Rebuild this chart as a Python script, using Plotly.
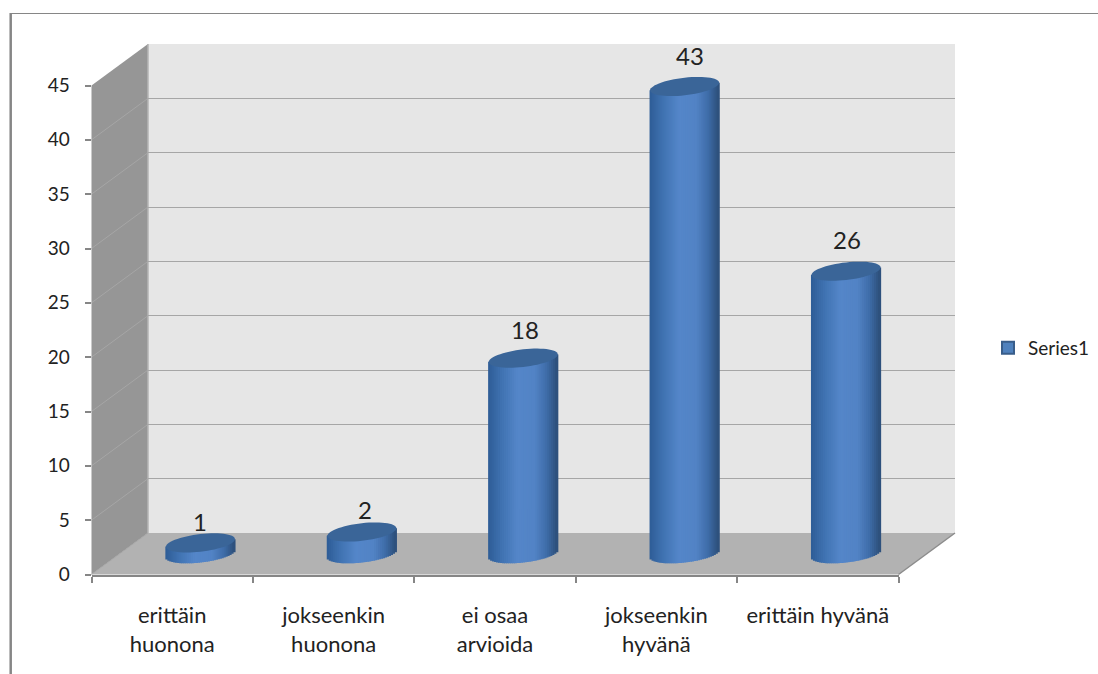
import math
import plotly.graph_objects as go

# Survey answers and their counts
categories = ["erittäin huonona", "jokseenkin huonona", "ei osaa arvioida",
              "jokseenkin hyvänä", "erittäin hyvänä"]
label_line1 = ["erittäin", "jokseenkin", "ei osaa", "jokseenkin", "erittäin hyvänä"]
label_line2 = ["huonona", "huonona", "arvioida", "hyvänä", ""]
values = [1, 2, 18, 43, 26]
series_name = "Series1"
y_ticks = [0, 5, 10, 15, 20, 25, 30, 35, 40, 45]

# Page geometry in pixels
W, H = 1098, 674
LEFT, RIGHT, BOTTOM, TOP = 91.5, 898.5, 574.5, 85.5
DEPTH_X, DEPTH_Y = 56.5, 41.5
UNIT_Y = (BOTTOM - TOP) / 45
UNIT_X = (RIGHT - LEFT) / 5

# Cylinder shape in pixels: half width, half height of the cap, tilt of the cap
CAP_A, CAP_B, CAP_TILT = 34.5, 8.8, 3.8
BELOW_ZERO = 2  # value units kept under zero for the rounded cylinder foot

# Colours
AXIS = "#868686"
GRID = "#a6a6a6"
WALL_BACK = "#e6e6e6"
WALL_LEFT = "#969696"
FLOOR = "#b2b2b2"
TEXT = "#222222"
CAP = "#3a6598"
GRADIENT = [(-1.0, (46, 92, 150)), (-0.6, (64, 115, 178)), (-0.15, (84, 134, 201)),
            (0.35, (82, 131, 197)), (0.7, (62, 108, 168)), (1.0, (44, 78, 120))]
FONT = "Lato"


def px_x(v):
    return v / W


def px_y(v):
    return 1 - v / H


def shade(u):
    for (u0, c0), (u1, c1) in zip(GRADIENT, GRADIENT[1:]):
        if u0 <= u <= u1:
            f = (u - u0) / (u1 - u0)
            return "rgb({},{},{})".format(*[round(a + (b - a) * f) for a, b in zip(c0, c1)])
    return "rgb(44,78,120)"


fig = go.Figure()
indices = list(range(len(categories)))

# Flat body of each cylinder, also the legend entry
fig.add_trace(go.Bar(
    x=indices, y=[v - 0.8 for v in values], base=[0.4] * len(values),
    width=2 * (CAP_A - 1) / UNIT_X, name=series_name,
    marker=dict(color="#4f81bd", line=dict(color="#385d8a", width=2)),
    xaxis="x3", yaxis="y3", showlegend=True,
))

# Shaded strips across each cylinder, with a curved foot
STRIPS = 35
for s in range(STRIPS):
    u = -1 + (2 * s + 1) / STRIPS
    foot = (-CAP_B * math.sqrt(max(0, 1 - u * u)) + CAP_TILT * u) / UNIT_Y
    lift = CAP_TILT * u / UNIT_Y
    fig.add_trace(go.Bar(
        x=[i + u * CAP_A / UNIT_X for i in indices],
        y=[v + lift - foot for v in values],
        base=[foot] * len(values),
        width=3.2 * CAP_A / STRIPS / UNIT_X,
        marker=dict(color=shade(u), line=dict(width=0)),
        xaxis="x3", yaxis="y3", showlegend=False, hoverinfo="skip",
    ))

# Invisible traces that keep the front plane, label axis and back wall alive
for xa, ya in [("x", "y"), ("x4", "y"), ("x2", "y2")]:
    fig.add_trace(go.Scatter(x=indices, y=values, mode="markers", marker=dict(opacity=0),
                             xaxis=xa, yaxis=ya, showlegend=False, hoverinfo="skip"))


def cap_path(i, v):
    pts = []
    for deg in range(0, 360, 6):
        t = math.radians(deg)
        x = i + CAP_A / UNIT_X * math.cos(t)
        y = v + (CAP_B * math.sin(t) + CAP_TILT * math.cos(t)) / UNIT_Y
        pts.append(f"{x:.4f},{y:.4f}")
    return "M" + " L".join(pts) + " Z"


def poly(points):
    return "M" + " L".join(f"{px_x(x):.5f},{px_y(y):.5f}" for x, y in points) + " Z"


shapes = []
# Frame around the chart
shapes.append(dict(type="line", xref="paper", yref="paper", x0=px_x(10), x1=1,
                   y0=px_y(13.5), y1=px_y(13.5), line=dict(color=AXIS, width=1), layer="below"))
shapes.append(dict(type="line", xref="paper", yref="paper", x0=px_x(10.7), x1=px_x(10.7),
                   y0=px_y(13), y1=0, line=dict(color=AXIS, width=2.5), layer="below"))

# Walls and floor
back_l, back_r = LEFT + DEPTH_X, RIGHT + DEPTH_X
back_b, back_t = BOTTOM - DEPTH_Y, TOP - DEPTH_Y
shapes.append(dict(type="path", xref="paper", yref="paper", layer="below",
                   path=poly([(back_l, back_b), (back_l, back_t), (back_r, back_t), (back_r, back_b)]),
                   fillcolor=WALL_BACK, line=dict(width=0)))
shapes.append(dict(type="path", xref="paper", yref="paper", layer="below",
                   path=poly([(LEFT, BOTTOM), (LEFT, TOP), (back_l, back_t), (back_l, back_b)]),
                   fillcolor=WALL_LEFT, line=dict(width=0)))
shapes.append(dict(type="path", xref="paper", yref="paper", layer="below",
                   path=poly([(LEFT, BOTTOM), (back_l, back_b), (back_r, back_b), (RIGHT, BOTTOM)]),
                   fillcolor=FLOOR, line=dict(width=0)))
shapes.append(dict(type="line", xref="paper", yref="paper", layer="below",
                   x0=px_x(RIGHT), y0=px_y(BOTTOM), x1=px_x(back_r), y1=px_y(back_b),
                   line=dict(color="#8c8c8c", width=1.5)))
shapes.append(dict(type="line", xref="paper", yref="paper", layer="below",
                   x0=px_x(back_l), y0=px_y(back_t), x1=px_x(back_l), y1=px_y(back_b),
                   line=dict(color="#b4b4b4", width=1.5)))
# Grid lines running along the side wall
for tick in y_ticks[:-1]:
    yy = BOTTOM - tick * UNIT_Y
    shapes.append(dict(type="line", xref="paper", yref="paper", layer="below",
                       x0=px_x(LEFT), y0=px_y(yy), x1=px_x(back_l), y1=px_y(yy - DEPTH_Y),
                       line=dict(color=GRID, width=1)))

# Cylinder caps
for i, v in zip(indices, values):
    shapes.append(dict(type="path", xref="x3", yref="y3", path=cap_path(i, v),
                       fillcolor=CAP, line=dict(width=0)))

# Value labels above the cylinders
label_rise = [21, 23, 29, 31, 32]
label_drift = [0, 3, 2, 5, 1]
annotations = [
    dict(x=i, y=v, xref="x3", yref="y3", text=str(v), showarrow=False,
         xshift=dx, yshift=rise, xanchor="center", yanchor="middle",
         font=dict(family=FONT, size=24, color=TEXT))
    for i, v, rise, dx in zip(indices, values, label_rise, label_drift)
]

MID_X, MID_Y = DEPTH_X / 2, DEPTH_Y / 2
tick_font = dict(family=FONT, size=19, color=TEXT)
category_font = dict(family=FONT, size=22, color=TEXT)
x_range = [-0.5, 4.5]

fig.update_layout(
    width=W, height=H, margin=dict(l=0, r=0, t=0, b=0, autoexpand=False),
    paper_bgcolor="white", plot_bgcolor="rgba(0,0,0,0)",
    barmode="overlay", shapes=shapes, annotations=annotations,
    legend=dict(x=px_x(988), y=px_y(348), xanchor="left", yanchor="middle",
                bgcolor="rgba(0,0,0,0)", font=dict(family=FONT, size=19, color=TEXT),
                itemwidth=30),
    # Front plane: axis lines, ticks and the first line of each category label
    xaxis=dict(domain=[px_x(LEFT), px_x(RIGHT)], range=x_range, anchor="y",
               tickmode="array", tickvals=indices, ticktext=label_line1, ticks="",
               showline=True, linecolor=AXIS, linewidth=2, showgrid=False, zeroline=False,
               tickfont=category_font, ticklabelstandoff=20,
               minor=dict(tickmode="array", tickvals=[-0.5, 0.5, 1.5, 2.5, 3.5, 4.5],
                          ticks="outside", ticklen=6, tickwidth=2, tickcolor=AXIS)),
    yaxis=dict(domain=[px_y(BOTTOM), px_y(TOP)], range=[0, 45], anchor="x",
               tickmode="array", tickvals=y_ticks, ticks="outside", ticklen=6, tickwidth=2,
               tickcolor=AXIS, showline=False, showgrid=False, zeroline=False,
               tickfont=tick_font, ticklabelstandoff=11),
    # Second line of each category label
    xaxis4=dict(domain=[px_x(LEFT), px_x(RIGHT)], range=x_range, anchor="y", overlaying="x",
                tickmode="array", tickvals=indices, ticktext=label_line2, ticks="",
                showline=False, showgrid=False, zeroline=False,
                tickfont=category_font, ticklabelstandoff=54),
    # Back wall, carrying the horizontal grid
    xaxis2=dict(domain=[px_x(back_l), px_x(back_r)], range=x_range, anchor="y2", visible=False),
    yaxis2=dict(domain=[px_y(back_b), px_y(back_t)], range=[0, 45], anchor="x2",
                tickmode="array", tickvals=y_ticks, showticklabels=False, ticks="",
                showgrid=True, gridcolor=GRID, gridwidth=1, zeroline=False, showline=False),
    # Mid-depth plane holding the cylinders
    xaxis3=dict(domain=[px_x(LEFT + MID_X), px_x(RIGHT + MID_X)], range=x_range, anchor="y3",
                visible=False),
    yaxis3=dict(domain=[px_y(BOTTOM - MID_Y + BELOW_ZERO * UNIT_Y), px_y(TOP - MID_Y)],
                range=[-BELOW_ZERO, 45], anchor="x3", visible=False),
)

fig.write_html("out.html", config=dict(displayModeBar=False))
